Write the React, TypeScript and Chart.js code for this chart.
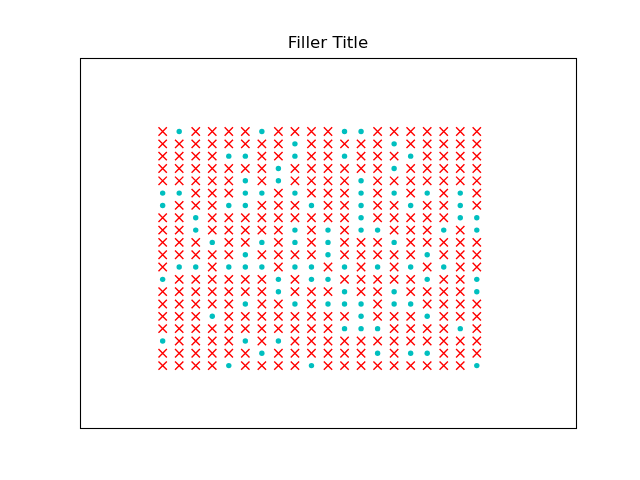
import React, { useEffect, useRef } from "react";
import { Chart, registerables } from "chart.js";

Chart.register(...registerables);

const TITLE = "Filler Title";
const columns = [0, 1, 2, 3, 4, 5, 6, 7, 8, 9, 10, 11, 12, 13, 14, 15, 16, 17, 18, 19];
// rows listed from top (y = 19) to bottom (y = 0); "o" = cyan dot, "x" = red cross
const rowYs = [19, 18, 17, 16, 15, 14, 13, 12, 11, 10, 9, 8, 7, 6, 5, 4, 3, 2, 1, 0];
const gridRows = [
  "xoxxxxoxxxxooxxxxxxx",
  "xxxxxxxxoxxxxxoxxxxx",
  "xxxxooxxoxxoxxxoxxxx",
  "xxxxxxxoxxxxxxoxxxxx",
  "xxxxxoxoxxxxoxxxxxxx",
  "ooxxxooxoxxxoxoxoxox",
  "oxxxooxxxoxxoxxoxxox",
  "xxoxxxxxxxxxoxxxxxoo",
  "xxoxxxxxoxoxooxxxoxo",
  "xxxoxxoxoxoxxxoxxxxx",
  "xxxxxoxxxxoxxxxxoxxx",
  "xooxoooxooxoxoxoxoxx",
  "oxxxxxxoxooxxxxxoxxo",
  "xxxxxxxoxxxoxxoxxxxo",
  "xxxxxoxxoxoooxooxxxx",
  "xxxoxxxxxxxxoxxxoxxx",
  "xxxxxxxxxxxoooxxxxox",
  "oxxxxoxoxxxxxxxxxxxx",
  "xxxxxxoxxxxxxoxooxxx",
  "xxxxoxxxxoxxxxxxxxxo",
];
const axisMin = -5;
const axisMax = 25;

export default function App() {
  const ref = useRef<HTMLCanvasElement | null>(null);

  useEffect(() => {
    document.body.style.margin = "0";
    const canvas = ref.current;
    if (!canvas) return;
    const crosses: { x: number; y: number }[] = [];
    const dots: { x: number; y: number }[] = [];
    gridRows.forEach((row, r) => {
      columns.forEach((c) => {
        const pt = { x: c, y: rowYs[r] };
        if (row[c] === "o") dots.push(pt);
        else crosses.push(pt);
      });
    });

    const framePlugin = {
      id: "frameTitle",
      afterDraw(chart: any) {
        const { ctx, chartArea } = chart;
        ctx.save();
        ctx.strokeStyle = "#000000";
        ctx.lineWidth = 1.1;
        ctx.strokeRect(
          Math.round(chartArea.left) + 0.5,
          Math.round(chartArea.top) + 0.5,
          Math.round(chartArea.right - chartArea.left),
          Math.round(chartArea.bottom - chartArea.top)
        );
        ctx.fillStyle = "#000000";
        ctx.font = "16.7px 'DejaVu Sans'";
        ctx.textAlign = "center";
        ctx.textBaseline = "alphabetic";
        ctx.fillText(TITLE, (chartArea.left + chartArea.right) / 2, chartArea.top - 9.5);
        ctx.restore();
      },
    };

    const chart = new Chart(canvas, {
      type: "scatter",
      data: {
        datasets: [
          {
            label: "cross",
            data: crosses,
            pointStyle: "crossRot",
            pointRadius: 5.9,
            pointBorderColor: "#ff0000",
            pointBackgroundColor: "#ff0000",
            pointBorderWidth: 1.4,
            showLine: false,
          },
          {
            label: "dot",
            data: dots,
            pointStyle: "circle",
            pointRadius: 2.7,
            pointBorderWidth: 0,
            pointBackgroundColor: "#00bfbf",
            pointBorderColor: "#00bfbf",
            showLine: false,
          },
        ],
      },
      options: {
        responsive: false,
        animation: false,
        layout: { padding: { left: 80, right: 64, top: 57.6, bottom: 52.8 } },
        plugins: {
          legend: { display: false },
          title: { display: false },
          tooltip: { enabled: false },
        },
        scales: {
          x: { type: "linear", min: axisMin, max: axisMax, display: false },
          y: { type: "linear", min: axisMin, max: axisMax, display: false },
        },
      },
      plugins: [framePlugin],
    });
    return () => chart.destroy();
  }, []);

  return (
    <div style={{ position: "absolute", left: 0, top: 0, width: 640, height: 480, background: "#ffffff" }}>
      <canvas ref={ref} width={640} height={480} style={{ width: 640, height: 480 }} />
    </div>
  );
}
